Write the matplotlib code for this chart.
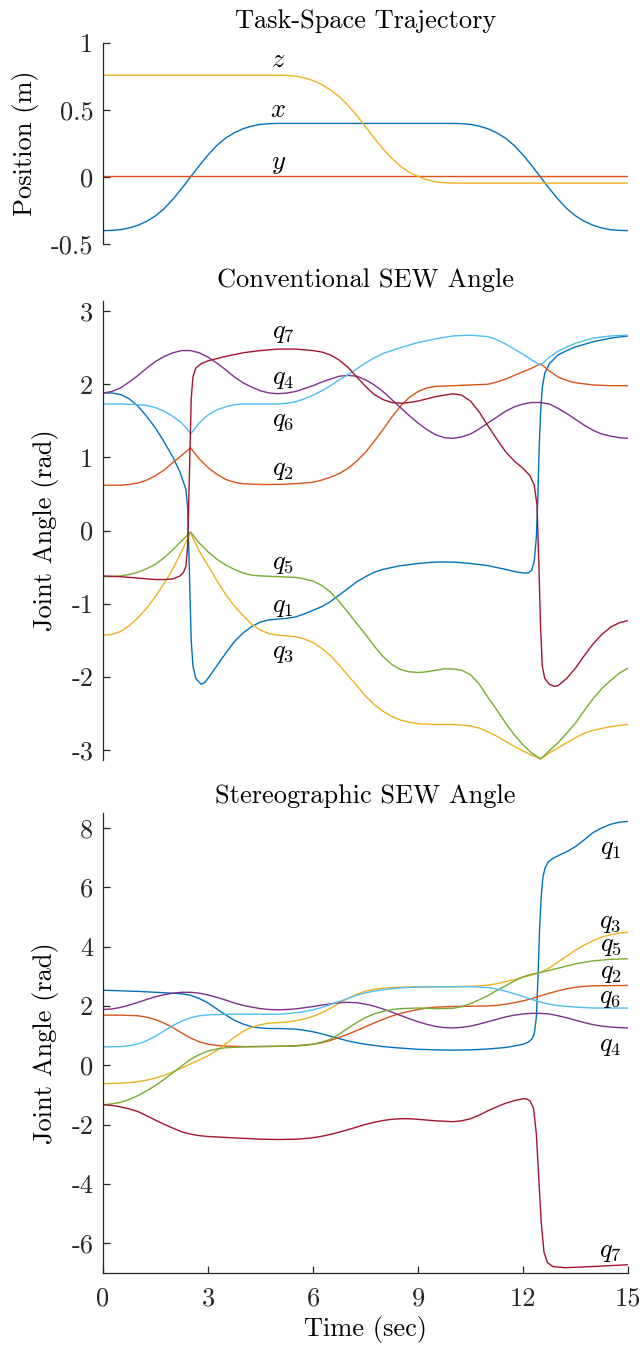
import matplotlib
matplotlib.use("Agg")
import matplotlib.pyplot as plt

plt.rcParams['font.family'] = 'cmr10'
plt.rcParams['mathtext.fontset'] = 'cm'
plt.rcParams['axes.unicode_minus'] = False

FS = 19
C_BLUE = '#0072BD'
C_ORANGE = '#D95319'
C_YELLOW = '#EDB120'
C_PURPLE = '#7E2F8E'
C_GREEN = '#77AC30'
C_LBLUE = '#4DBEEE'
C_RED = '#A2142F'
AXC = '#262626'

# ---- task-space trajectory (m)
t_x = [0, 0.25, 0.5, 0.75, 1, 1.25, 1.5, 1.75, 2, 2.25, 2.5, 2.75, 3, 3.25, 3.5, 3.75, 4, 4.25, 4.5, 4.75, 5,
       10, 10.25, 10.5, 10.75, 11, 11.25, 11.5, 11.75, 12, 12.25, 12.5, 12.75, 13, 13.25, 13.5, 13.75, 14,
       14.25, 14.5, 14.75, 15]
pos_x = [-0.400, -0.398, -0.393, -0.38, -0.36, -0.33, -0.29, -0.235, -0.165, -0.085, 0.0, 0.085, 0.165,
         0.235, 0.29, 0.33, 0.36, 0.38, 0.393, 0.398, 0.400,
         0.400, 0.398, 0.393, 0.38, 0.36, 0.33, 0.29, 0.235, 0.165, 0.085, 0.0, -0.085, -0.165, -0.235,
         -0.29, -0.33, -0.36, -0.38, -0.393, -0.398, -0.400]
t_y = [0, 15]
pos_y = [0.005, 0.005]
t_z = [0, 5, 5.25, 5.5, 5.75, 6, 6.25, 6.5, 6.75, 7, 7.25, 7.5, 7.75, 8, 8.25, 8.5, 8.75, 9, 9.25, 9.5,
       9.75, 10, 15]
pos_z = [0.76, 0.76, 0.758, 0.753, 0.74, 0.72, 0.69, 0.65, 0.60, 0.535, 0.46, 0.375, 0.29, 0.21, 0.14,
         0.08, 0.035, 0.005, -0.02, -0.035, -0.043, -0.045, -0.045]

# ---- conventional SEW angle (rad)
tc_q1 = [0, 0.25, 0.5, 0.75, 1, 1.25, 1.5, 1.75, 2, 2.2, 2.37, 2.42, 2.47, 2.52, 2.57, 2.65, 2.8, 2.9, 3,
         3.25, 3.5, 3.75, 4, 4.25, 4.5, 4.75, 5, 5.25, 5.5, 5.75, 6, 6.25, 6.5, 6.75, 7, 7.25, 7.5, 7.75, 8,
         8.5, 9, 9.5, 10, 10.5, 11, 11.5, 11.75, 12, 12.15, 12.25, 12.32, 12.38, 12.42, 12.46, 12.5, 12.55,
         12.62, 12.75, 13, 13.25, 13.5, 14, 14.5, 15]
qc1 = [1.88, 1.88, 1.86, 1.80, 1.70, 1.56, 1.40, 1.21, 1.0, 0.8, 0.56, 0.3, -0.6, -1.5, -1.85, -2.02,
       -2.1, -2.08, -2.02, -1.85, -1.68, -1.52, -1.4, -1.31, -1.25, -1.22, -1.21, -1.2, -1.18, -1.14,
       -1.09, -1.04, -0.97, -0.88, -0.79, -0.7, -0.63, -0.57, -0.53, -0.48, -0.45, -0.43, -0.43, -0.45,
       -0.48, -0.53, -0.56, -0.58, -0.58, -0.54, -0.42, -0.1, 0.4, 1.1, 1.6, 1.95, 2.15, 2.28, 2.4, 2.46,
       2.51, 2.58, 2.63, 2.66]
tc_q2 = [0, 0.5, 0.75, 1, 1.25, 1.5, 1.75, 2, 2.25, 2.5, 2.6, 2.75, 3, 3.25, 3.5, 3.75, 4, 4.5, 5, 5.5, 6,
         6.25, 6.5, 6.75, 7, 7.25, 7.5, 7.75, 8, 8.25, 8.5, 8.75, 9, 9.25, 9.5, 10, 10.5, 11, 11.25, 11.5,
         11.75, 12, 12.25, 12.5, 12.6, 12.75, 13, 13.25, 13.5, 14, 14.5, 15]
qc2 = [0.62, 0.62, 0.63, 0.65, 0.69, 0.75, 0.83, 0.93, 1.03, 1.13, 1.07, 0.98, 0.86, 0.77, 0.7, 0.66,
       0.64, 0.63, 0.63, 0.64, 0.66, 0.69, 0.73, 0.78, 0.85, 0.95, 1.07, 1.22, 1.38, 1.55, 1.7, 1.82, 1.9,
       1.95, 1.97, 1.98, 1.99, 2.0, 2.03, 2.07, 2.12, 2.17, 2.22, 2.28, 2.24, 2.18, 2.1, 2.05, 2.02, 1.99,
       1.98, 1.98]
tc_q3 = [0, 0.25, 0.5, 0.75, 1, 1.25, 1.5, 1.75, 2, 2.25, 2.5, 2.6, 2.75, 3, 3.25, 3.5, 3.75, 4, 4.25,
         4.5, 4.75, 5, 5.25, 5.5, 5.75, 6, 6.25, 6.5, 6.75, 7, 7.25, 7.5, 7.75, 8, 8.25, 8.5, 8.75, 9, 9.5,
         10, 10.5, 10.75, 11, 11.25, 11.5, 11.75, 12, 12.25, 12.5, 12.6, 12.75, 13, 13.25, 13.5, 13.75, 14,
         14.5, 15]
qc3 = [-1.43, -1.42, -1.38, -1.3, -1.19, -1.06, -0.9, -0.72, -0.52, -0.28, -0.03, -0.13, -0.28, -0.48,
       -0.68, -0.87, -1.03, -1.16, -1.28, -1.36, -1.41, -1.43, -1.44, -1.45, -1.48, -1.53, -1.61, -1.71,
       -1.84, -1.98, -2.12, -2.26, -2.38, -2.47, -2.54, -2.59, -2.62, -2.64, -2.65, -2.65, -2.67, -2.7,
       -2.75, -2.81, -2.88, -2.95, -3.01, -3.07, -3.12, -3.09, -3.04, -2.97, -2.9, -2.83, -2.77, -2.73,
       -2.68, -2.65]
tc_q4 = [0, 0.25, 0.5, 0.75, 1, 1.25, 1.5, 1.75, 2, 2.25, 2.5, 2.75, 3, 3.25, 3.5, 3.75, 4, 4.25, 4.5,
         4.75, 5, 5.25, 5.5, 5.75, 6, 6.25, 6.5, 6.75, 7, 7.25, 7.5, 7.75, 8, 8.25, 8.5, 8.75, 9, 9.25, 9.5,
         9.75, 10, 10.25, 10.5, 10.75, 11, 11.25, 11.5, 11.75, 12, 12.25, 12.5, 12.75, 13, 13.25, 13.5,
         13.75, 14, 14.25, 14.5, 14.75, 15]
qc4 = [1.88, 1.9, 1.95, 2.03, 2.12, 2.22, 2.31, 2.38, 2.43, 2.46, 2.46, 2.43, 2.37, 2.29, 2.2, 2.1, 2.02,
       1.96, 1.91, 1.88, 1.87, 1.88, 1.9, 1.94, 1.98, 2.03, 2.07, 2.11, 2.12, 2.11, 2.06, 1.99, 1.9, 1.79,
       1.68, 1.57, 1.47, 1.38, 1.31, 1.27, 1.26, 1.28, 1.32, 1.39, 1.47, 1.55, 1.63, 1.69, 1.73, 1.75, 1.75,
       1.73, 1.67, 1.6, 1.52, 1.44, 1.37, 1.32, 1.29, 1.27, 1.26]
tc_q5 = [0, 0.25, 0.5, 0.75, 1, 1.25, 1.5, 1.75, 2, 2.25, 2.5, 2.6, 2.75, 3, 3.25, 3.5, 3.75, 4, 4.25,
         4.5, 5, 5.5, 5.75, 6, 6.25, 6.5, 6.75, 7, 7.25, 7.5, 7.75, 8, 8.25, 8.5, 8.75, 9, 9.25, 9.5, 9.75,
         10, 10.25, 10.5, 10.75, 11, 11.25, 11.5, 11.75, 12, 12.25, 12.5, 12.6, 12.75, 13, 13.25, 13.5,
         13.75, 14, 14.25, 14.5, 14.75, 15]
qc5 = [-0.63, -0.63, -0.62, -0.6, -0.57, -0.52, -0.46, -0.37, -0.26, -0.14, -0.02, -0.08, -0.17, -0.29,
       -0.39, -0.47, -0.53, -0.58, -0.61, -0.62, -0.63, -0.64, -0.66, -0.69, -0.75, -0.84, -0.97, -1.12,
       -1.27, -1.42, -1.58, -1.72, -1.83, -1.9, -1.93, -1.94, -1.93, -1.91, -1.89, -1.89, -1.91, -1.97,
       -2.1, -2.28, -2.45, -2.63, -2.79, -2.93, -3.04, -3.12, -3.08, -3.01, -2.9, -2.77, -2.63, -2.46,
       -2.3, -2.16, -2.05, -1.95, -1.88]
tc_q6 = [0, 0.5, 1, 1.25, 1.5, 1.75, 2, 2.25, 2.4, 2.5, 2.6, 2.75, 3, 3.25, 3.5, 3.75, 4, 5, 5.25, 5.5,
         5.75, 6, 6.25, 6.5, 6.75, 7, 7.25, 7.5, 7.75, 8, 8.5, 9, 9.5, 10, 10.5, 11, 11.25, 11.5, 11.75, 12,
         12.25, 12.5, 12.6, 12.75, 13, 13.25, 13.5, 14, 14.5, 15]
qc6 = [1.73, 1.73, 1.72, 1.71, 1.68, 1.63, 1.56, 1.47, 1.39, 1.32, 1.38, 1.47, 1.58, 1.65, 1.69, 1.72,
       1.73, 1.73, 1.74, 1.76, 1.8, 1.85, 1.91, 1.98, 2.06, 2.13, 2.21, 2.29, 2.36, 2.42, 2.5, 2.57, 2.62,
       2.66, 2.67, 2.65, 2.61, 2.55, 2.48, 2.41, 2.33, 2.26, 2.3, 2.37, 2.45, 2.51, 2.56, 2.63, 2.66, 2.67]
tc_q7 = [0, 0.5, 1, 1.5, 1.75, 2, 2.2, 2.3, 2.37, 2.42, 2.47, 2.52, 2.57, 2.65, 2.8, 3, 3.5, 4, 4.5, 5,
         5.5, 6, 6.25, 6.5, 6.75, 7, 7.25, 7.5, 7.75, 8, 8.25, 8.5, 8.75, 9, 9.5, 10, 10.25, 10.5, 10.75, 11,
         11.25, 11.5, 11.75, 12, 12.2, 12.32, 12.4, 12.45, 12.5, 12.55, 12.62, 12.75, 12.9, 13, 13.25, 13.5,
         13.75, 14, 14.25, 14.5, 14.75, 15]
qc7 = [-0.62, -0.63, -0.65, -0.67, -0.67, -0.66, -0.62, -0.57, -0.49, -0.2, 0.8, 1.8, 2.1, 2.22, 2.28,
       2.32, 2.38, 2.43, 2.46, 2.48, 2.48, 2.46, 2.44, 2.4, 2.33, 2.23, 2.1, 1.97, 1.86, 1.79, 1.75, 1.74,
       1.75, 1.77, 1.83, 1.87, 1.85, 1.77, 1.62, 1.43, 1.25, 1.08, 0.95, 0.85, 0.75, 0.62, 0.35, -0.4,
       -1.3, -1.85, -2.02, -2.1, -2.13, -2.12, -2.02, -1.88, -1.71, -1.55, -1.42, -1.32, -1.26, -1.23]

# ---- stereographic SEW angle (rad)
ts_q1 = [0, 0.5, 1, 1.5, 2, 2.25, 2.5, 2.75, 3, 3.25, 3.5, 3.75, 4, 4.25, 4.5, 4.75, 5, 5.5, 5.75, 6,
         6.25, 6.5, 6.75, 7, 7.25, 7.5, 7.75, 8, 8.5, 9, 9.5, 10, 10.5, 11, 11.5, 11.75, 12, 12.15, 12.25,
         12.32, 12.38, 12.43, 12.47, 12.52, 12.57, 12.63, 12.72, 12.85, 13, 13.25, 13.5, 13.75, 14, 14.25,
         14.5, 14.75, 15]
qs1 = [2.53, 2.51, 2.49, 2.46, 2.43, 2.41, 2.36, 2.25, 2.1, 1.9, 1.7, 1.52, 1.39, 1.3, 1.26, 1.24, 1.24,
       1.22, 1.18, 1.13, 1.06, 0.98, 0.9, 0.82, 0.76, 0.71, 0.67, 0.63, 0.58, 0.54, 0.52, 0.51, 0.52, 0.55,
       0.6, 0.65, 0.71, 0.78, 0.88, 1.05, 1.6, 3.0, 4.5, 5.7, 6.35, 6.65, 6.85, 6.97, 7.06, 7.2, 7.37,
       7.6, 7.84, 8.0, 8.12, 8.19, 8.22]
ts_q2 = [0, 0.5, 1, 1.25, 1.5, 1.75, 2, 2.25, 2.5, 2.75, 3, 3.25, 3.5, 4, 5, 5.5, 6, 6.25, 6.5, 6.75, 7,
         7.25, 7.5, 7.75, 8, 8.25, 8.5, 8.75, 9, 9.25, 9.5, 10, 11, 11.25, 11.5, 11.75, 12, 12.25, 12.5,
         12.75, 13, 13.25, 13.5, 13.75, 14, 15]
qs2 = [1.69, 1.69, 1.67, 1.62, 1.54, 1.42, 1.27, 1.09, 0.92, 0.79, 0.71, 0.67, 0.65, 0.63, 0.64, 0.66,
       0.71, 0.76, 0.84, 0.94, 1.05, 1.17, 1.3, 1.43, 1.55, 1.66, 1.75, 1.82, 1.88, 1.93, 1.96, 1.98, 2.0,
       2.02, 2.06, 2.11, 2.17, 2.25, 2.34, 2.43, 2.51, 2.58, 2.63, 2.66, 2.68, 2.69]
ts_q3 = [0, 0.5, 0.75, 1, 1.25, 1.5, 1.75, 2, 2.25, 2.5, 2.75, 3, 3.25, 3.5, 3.75, 4, 4.25, 4.5, 4.75, 5,
         5.25, 5.5, 5.75, 6, 6.25, 6.5, 6.75, 7, 7.25, 7.5, 7.75, 8, 8.5, 9, 10, 10.5, 11, 11.25, 11.5,
         11.75, 12, 12.25, 12.5, 12.75, 13, 13.25, 13.5, 13.75, 14, 14.25, 14.5, 14.75, 15]
qs3 = [-0.62, -0.6, -0.58, -0.55, -0.5, -0.43, -0.34, -0.22, -0.09, 0.05, 0.18, 0.32, 0.5, 0.72, 0.94,
       1.14, 1.28, 1.37, 1.42, 1.44, 1.46, 1.5, 1.56, 1.65, 1.77, 1.92, 2.09, 2.25, 2.39, 2.5, 2.56, 2.6,
       2.63, 2.64, 2.65, 2.66, 2.7, 2.75, 2.82, 2.89, 2.97, 3.04, 3.13, 3.28, 3.48, 3.68, 3.88, 4.05, 4.2,
       4.32, 4.4, 4.46, 4.48]
ts_q5 = [0, 0.25, 0.5, 0.75, 1, 1.25, 1.5, 1.75, 2, 2.25, 2.5, 2.75, 3, 3.25, 3.5, 4, 5, 5.5, 5.75, 6,
         6.25, 6.5, 6.75, 7, 7.25, 7.5, 7.75, 8, 8.25, 8.5, 9, 9.5, 10, 10.25, 10.5, 10.75, 11, 11.25, 11.5,
         11.75, 12, 12.25, 12.5, 12.75, 13, 13.5, 14, 14.5, 15]
qs5 = [-1.33, -1.3, -1.25, -1.15, -1.02, -0.86, -0.68, -0.47, -0.25, -0.02, 0.2, 0.36, 0.48, 0.55, 0.59,
       0.62, 0.64, 0.65, 0.67, 0.71, 0.78, 0.88, 1.05, 1.25, 1.44, 1.61, 1.73, 1.82, 1.88, 1.91, 1.93, 1.91,
       1.92, 1.98, 2.08, 2.21, 2.35, 2.52, 2.68, 2.84, 2.98, 3.07, 3.13, 3.2, 3.27, 3.42, 3.52, 3.57, 3.59]
ts_q6 = [0, 0.5, 0.75, 1, 1.25, 1.5, 1.75, 2, 2.25, 2.5, 2.75, 3, 3.5, 5, 5.25, 5.5, 5.75, 6, 6.25, 6.5,
         6.75, 7, 7.25, 7.5, 7.75, 8, 8.5, 9, 10, 10.5, 11, 11.25, 11.5, 11.75, 12, 12.25, 12.5, 12.75, 13,
         13.5, 14, 15]
qs6 = [0.62, 0.63, 0.66, 0.72, 0.83, 0.98, 1.16, 1.34, 1.49, 1.6, 1.67, 1.7, 1.72, 1.72, 1.74, 1.77,
       1.81, 1.87, 1.95, 2.05, 2.15, 2.26, 2.36, 2.44, 2.5, 2.55, 2.61, 2.64, 2.65, 2.65, 2.62, 2.57, 2.5,
       2.41, 2.32, 2.22, 2.13, 2.06, 2.01, 1.96, 1.93, 1.93]
ts_q7 = [0, 0.25, 0.5, 0.75, 1, 1.25, 1.5, 1.75, 2, 2.25, 2.5, 2.75, 3, 3.5, 4, 4.5, 5, 5.5, 5.75, 6,
         6.25, 6.5, 6.75, 7, 7.25, 7.5, 7.75, 8, 8.25, 8.5, 8.75, 9, 9.5, 10, 10.25, 10.5, 10.75, 11, 11.25,
         11.5, 11.75, 12, 12.1, 12.2, 12.3, 12.38, 12.45, 12.52, 12.6, 12.7, 12.85, 13.2, 14, 15]
qs7 = [-1.33, -1.35, -1.4, -1.47, -1.56, -1.7, -1.85, -1.99, -2.12, -2.24, -2.32, -2.37, -2.4, -2.43,
       -2.46, -2.49, -2.5, -2.49, -2.47, -2.44, -2.39, -2.33, -2.25, -2.17, -2.08, -1.99, -1.92, -1.86,
       -1.82, -1.8, -1.8, -1.82, -1.87, -1.9, -1.87, -1.8, -1.68, -1.53, -1.4, -1.28, -1.19, -1.13, -1.13,
       -1.2, -1.45, -2.3, -3.8, -5.3, -6.3, -6.65, -6.78, -6.82, -6.78, -6.72]

# label positions
top_labels = [('$x$', 5.0, 0.50), ('$y$', 5.0, 0.10), ('$z$', 5.0, 0.87)]
conv_labels = [('$q_7$', 2.70), ('$q_4$', 2.07), ('$q_6$', 1.49), ('$q_2$', 0.83),
               ('$q_5$', -0.46), ('$q_1$', -1.04), ('$q_3$', -1.67)]
stereo_labels = [('$q_1$', 7.3), ('$q_3$', 4.8), ('$q_5$', 4.0), ('$q_2$', 3.1),
                 ('$q_6$', 2.26), ('$q_4$', 0.65), ('$q_7$', -6.3)]

fig = plt.figure(figsize=(6.43, 13.49), dpi=100)
ax1 = fig.add_axes([0.1602, 0.8191, 0.8165, 0.1490])
ax2 = fig.add_axes([0.1602, 0.4363, 0.8165, 0.3408])
ax3 = fig.add_axes([0.1602, 0.0563, 0.8165, 0.3410])

lw = 1.0
ax1.plot(t_x, pos_x, color=C_BLUE, lw=lw)
ax1.plot(t_y, pos_y, color=C_ORANGE, lw=lw)
ax1.plot(t_z, pos_z, color=C_YELLOW, lw=lw)

conv = [(tc_q1, qc1, C_BLUE), (tc_q2, qc2, C_ORANGE), (tc_q3, qc3, C_YELLOW), (tc_q4, qc4, C_PURPLE),
        (tc_q5, qc5, C_GREEN), (tc_q6, qc6, C_LBLUE), (tc_q7, qc7, C_RED)]
for t, q, c in conv:
    ax2.plot(t, q, color=c, lw=lw, solid_joinstyle='round')

# q4 is the same in both parameterisations
stereo = [(ts_q1, qs1, C_BLUE), (ts_q2, qs2, C_ORANGE), (ts_q3, qs3, C_YELLOW), (tc_q4, qc4, C_PURPLE),
          (ts_q5, qs5, C_GREEN), (ts_q6, qs6, C_LBLUE), (ts_q7, qs7, C_RED)]
for t, q, c in stereo:
    ax3.plot(t, q, color=c, lw=lw, solid_joinstyle='round')

for s, tt, yy in top_labels:
    ax1.text(tt, yy, s, fontsize=FS, ha='center', va='center')
for s, yy in conv_labels:
    ax2.text(5.14, yy, s, fontsize=FS, ha='center', va='center')
for s, yy in stereo_labels:
    ax3.text(14.5, yy, s, fontsize=FS, ha='center', va='center')

ax1.set_ylim(-0.5, 1)
ax1.set_yticks([-0.5, 0, 0.5, 1])
ax1.set_yticklabels(['-0.5', '0', '0.5', '1'])
ax2.set_ylim(-3.14159, 3.14159)
ax2.set_yticks([-3, -2, -1, 0, 1, 2, 3])
ax2.set_yticklabels(['-3', '-2', '-1', '0', '1', '2', '3'])
ax3.set_ylim(-7, 8.5)
ax3.set_yticks([-6, -4, -2, 0, 2, 4, 6, 8])
ax3.set_yticklabels(['-6', '-4', '-2', '0', '2', '4', '6', '8'])
ax3.set_xticks([0, 3, 6, 9, 12, 15])
ax3.set_xticklabels(['0', '3', '6', '9', '12', '15'])

for ax in (ax1, ax2, ax3):
    ax.set_xlim(0, 15)
    for sp in ('top', 'right'):
        ax.spines[sp].set_visible(False)
    ax.spines['left'].set_color(AXC)
    ax.spines['left'].set_linewidth(0.9)
    ax.tick_params(axis='y', direction='in', length=5, width=0.9, color=AXC,
                   labelsize=FS, labelcolor=AXC, pad=7)
for ax in (ax1, ax2):
    ax.spines['bottom'].set_visible(False)
    ax.set_xticks([])
ax3.spines['bottom'].set_color(AXC)
ax3.spines['bottom'].set_linewidth(0.9)
ax3.tick_params(axis='x', direction='in', length=5, width=0.9, color=AXC,
                labelsize=FS, labelcolor=AXC, pad=10)

ax1.set_title('Task-Space Trajectory', fontsize=FS, pad=11)
ax2.set_title('Conventional SEW Angle', fontsize=FS, pad=9.5)
ax3.set_title('Stereographic SEW Angle', fontsize=FS, pad=7.5)
ax1.set_ylabel('Position (m)', fontsize=FS)
ax2.set_ylabel('Joint Angle (rad)', fontsize=FS)
ax3.set_ylabel('Joint Angle (rad)', fontsize=FS)
ax1.yaxis.set_label_coords(-0.122, 0.5)
ax2.yaxis.set_label_coords(-0.083, 0.5)
ax3.yaxis.set_label_coords(-0.083, 0.5)
ax3.set_xlabel('Time (sec)', fontsize=FS, labelpad=4)

fig.savefig('out.png', dpi=100)
